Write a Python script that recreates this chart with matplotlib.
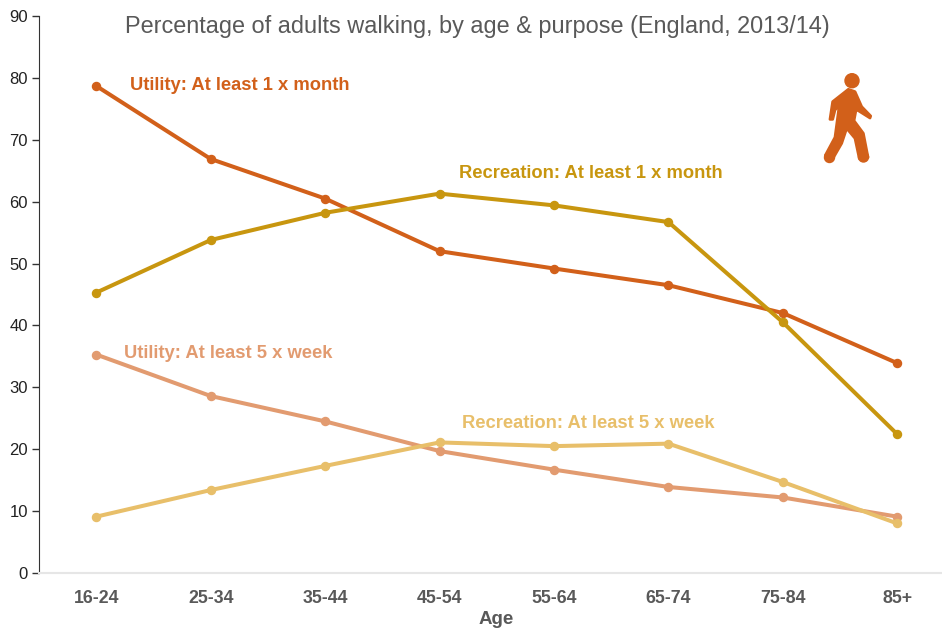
import matplotlib
matplotlib.use('Agg')
import matplotlib.pyplot as plt
from matplotlib.patches import Circle, Polygon

plt.rcParams['font.family'] = ['Liberation Sans', 'DejaVu Sans']

ages = ['16-24', '25-34', '35-44', '45-54', '55-64', '65-74', '75-84', '85+']
util_month = [78.7, 66.9, 60.5, 52.0, 49.2, 46.5, 42.0, 33.9]
rec_month = [45.3, 53.8, 58.2, 61.3, 59.4, 56.7, 40.5, 22.4]
util_week = [35.3, 28.6, 24.5, 19.7, 16.7, 13.9, 12.2, 9.1]
rec_week = [9.1, 13.4, 17.3, 21.1, 20.5, 20.9, 14.7, 8.0]

c_um = '#D2601A'
c_rm = '#C8960F'
c_uw = '#E29B70'
c_rw = '#E8BF6A'

fig = plt.figure(figsize=(9.42, 6.28), dpi=100)
ax = fig.add_axes([39 / 942, 1 - 573 / 628, (942 - 39) / 942, (573 - 16) / 628])

x = list(range(len(ages)))
for vals, col in [(util_week, c_uw), (rec_week, c_rw), (util_month, c_um), (rec_month, c_rm)]:
    ax.plot(x, vals, color=col, lw=2.9, marker='o', ms=5.8, clip_on=False)

ax.set_xlim(-0.5, 7.39)
ax.set_ylim(0, 90)
ax.set_yticks(range(0, 91, 10))
ax.set_xticks(x)
ax.set_xticklabels(ages, fontweight='bold', fontsize=12.8, color='#595959')
ax.tick_params(axis='y', labelsize=12, labelcolor='#222222', length=5, color='#333333', width=1, pad=3)
ax.tick_params(axis='x', length=0, pad=12)
for s in ['top', 'right']:
    ax.spines[s].set_visible(False)
ax.spines['left'].set_color('#333333')
ax.spines['bottom'].set_color('#E6E6E6')
ax.spines['bottom'].set_linewidth(1.5)

fig.text(496 / 942, 1 - 619 / 628, 'Age', ha='center', va='center', fontweight='bold', fontsize=13.5, color='#595959')
fig.text(477 / 942, 1 - 26 / 628, 'Percentage of adults walking, by age & purpose (England, 2013/14)',
         ha='center', va='center', fontsize=16.9, color='#595959')

fig.text(130 / 942, 1 - 86 / 628, 'Utility: At least 1 x month', color=c_um, fontweight='bold', fontsize=13.2, va='center')
fig.text(459 / 942, 1 - 173 / 628, 'Recreation: At least 1 x month', color=c_rm, fontweight='bold', fontsize=13.2, va='center')
fig.text(124 / 942, 1 - 353 / 628, 'Utility: At least 5 x week', color=c_uw, fontweight='bold', fontsize=13.2, va='center')
fig.text(462 / 942, 1 - 424 / 628, 'Recreation: At least 5 x week', color=c_rw, fontweight='bold', fontsize=13.2, va='center')

# walking figure icon, outline
icon_x = [205, 225, 245, 272, 270, 235, 228, 222, 250, 264, 238, 225, 200, 185, 155, 136, 165, 178, 165, 158, 150, 158]
icon_y = [118, 125, 170, 198, 204, 182, 180, 212, 250, 322, 326, 265, 235, 280, 332, 316, 262, 165, 180, 208, 208, 155]
icon = fig.add_axes([0, 0, 1, 1])
icon.set_xlim(0, 942)
icon.set_ylim(628, 0)
icon.axis('off')
icon.patch.set_alpha(0)
icon.add_patch(Circle((852, 80.7), 7, color=c_um))
pts = [(780 + a / 3, 50 + b / 3) for a, b in zip(icon_x, icon_y)]
icon.add_patch(Polygon(pts, closed=True, facecolor=c_um, edgecolor=c_um, lw=2, joinstyle='round'))
icon.add_patch(Circle((829.5, 157.5), 5, color=c_um))
icon.add_patch(Circle((863.5, 157), 5, color=c_um))

fig.savefig('out.png', dpi=100)
